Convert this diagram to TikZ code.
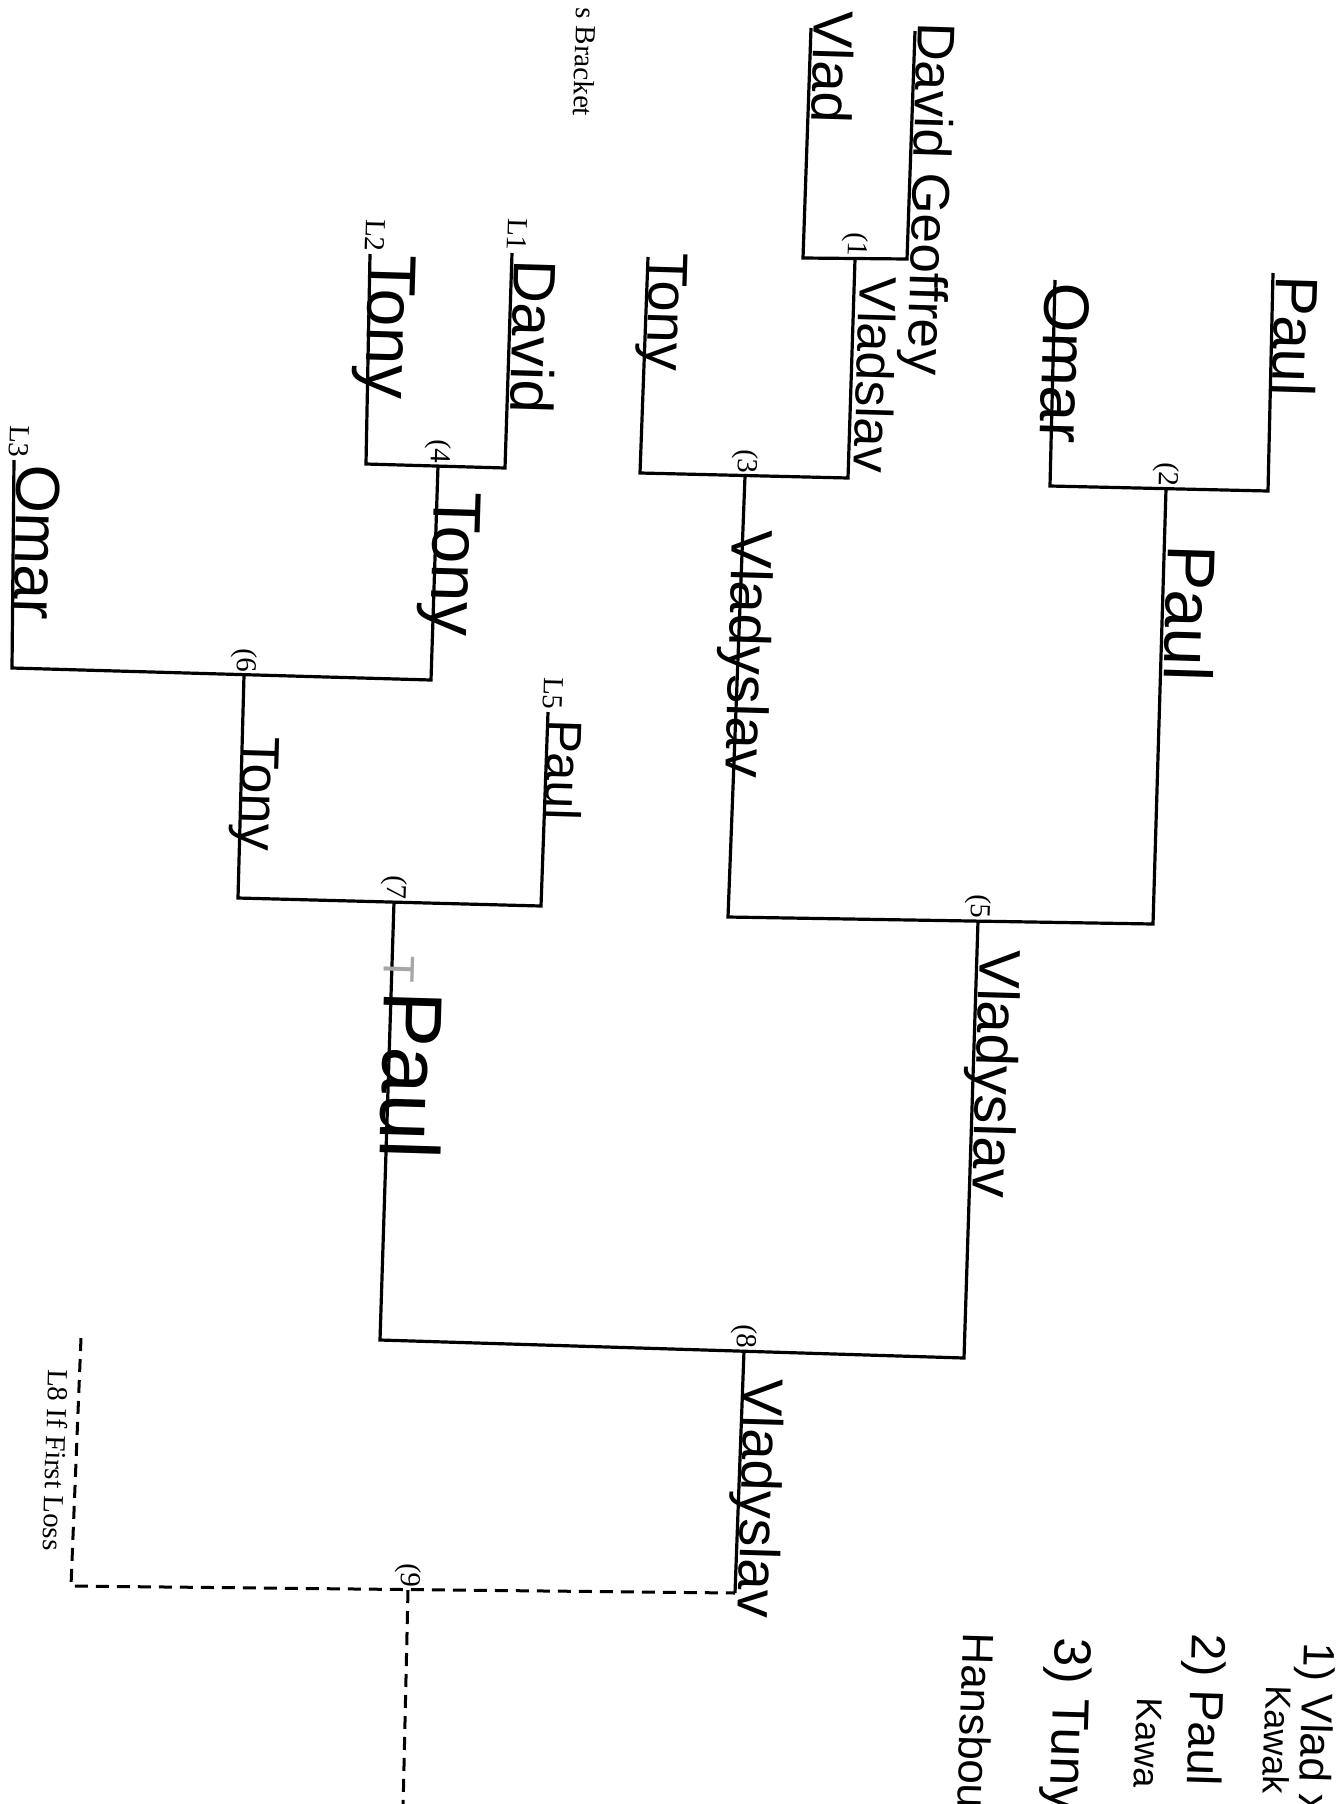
\documentclass[tikz,border=0pt]{standalone}
\usepackage{fontspec}
\setmainfont{Liberation Serif}
\newfontfamily\handfont{Liberation Sans}

\begin{document}
\begin{tikzpicture}[x=0.5pt, y=-0.5pt,
    bracket/.style={line width=1.6pt},
    ifloss/.style={line width=1.5pt, dash pattern=on 6.5pt off 4pt},
    printed/.style={rotate=-91.7, inner sep=1pt, font=\fontsize{14.5}{16}\selectfont},
    hand/.style={rotate=-91.7, anchor=base west, inner sep=0pt, font=\handfont\fontsize{#1}{#1}\selectfont}]

% Page
\useasboundingbox (0,0) rectangle (1337,1804);
\clip (0,0) rectangle (1337,1804);

% Points
\coordinate (1A) at (811,28);   \coordinate (1Ac) at (803,258);
\coordinate (1B) at (915,31);   \coordinate (1Bc) at (907,259);
\coordinate (2A) at (1055,280); \coordinate (2Ac) at (1050,486);
\coordinate (2B) at (1273,273); \coordinate (2Bc) at (1268,491);
\coordinate (3A) at (648,257);  \coordinate (3Ac) at (640,473);
\coordinate (3Bc) at (848,478);
\coordinate (4A) at (370,254);  \coordinate (4Ac) at (366,464);
\coordinate (4B) at (512,253);  \coordinate (4Bc) at (505,468);
\coordinate (5Ac) at (728,917); \coordinate (5Bc) at (1153,924);
\coordinate (6A) at (14,460);   \coordinate (6Ac) at (12,668);
\coordinate (6Bc) at (431,680);
\coordinate (7Ac) at (238,898);
\coordinate (7B) at (548,712);  \coordinate (7Bc) at (541,906);
\coordinate (8Ac) at (380,1340); \coordinate (8Bc) at (964,1358);
\coordinate (9A) at (81,1338);  \coordinate (9Ac) at (71,1586);
\coordinate (9Bc) at (735,1593); \coordinate (9out) at (403,1810);

% Match points
\coordinate (m1) at (855,259);
\coordinate (m2) at (1166,489);
\coordinate (m3) at (745,476);
\coordinate (m4) at (438,466);
\coordinate (m5) at (978,921);
\coordinate (m6) at (244,675);
\coordinate (m7) at (394,902);
\coordinate (m8) at (744,1351);
\coordinate (m9) at (408,1590);

% First round
\draw[bracket] (1A) -- (1Ac) -- (1Bc) -- (1B);
\draw[bracket] (2A) -- (2Ac) -- (2Bc) -- (2B);
\draw[bracket] (4A) -- (4Ac) -- (4Bc) -- (4B);

% Winners side
\draw[bracket] (3A) -- (3Ac) -- (3Bc) -- (m1);
\draw[bracket] (m3) -- (5Ac) -- (5Bc) -- (m2);
\draw[bracket] (m5) -- (8Bc) -- (8Ac) -- (m7);
\draw[bracket] (m8) -- (9Bc);

% Losers side
\draw[bracket] (6A) -- (6Ac) -- (6Bc) -- (m4);
\draw[bracket] (m6) -- (7Ac) -- (7Bc) -- (7B);

% If first loss
\draw[ifloss] (9A) -- (9Ac) -- (9Bc);
\draw[ifloss] (m9) -- (9out);

% Printed labels
\node[printed] (title) at (585,62) {s Bracket};
\node[printed, anchor=mid east] (l1) at (4B) {L1};
\node[printed, anchor=mid east] (l2) at (4A) {L2};
\node[printed, anchor=mid east] (l3) at (6A) {L3};
\node[printed, anchor=mid east] (l5) at (7B) {L5};
\node[printed] (l8) at (56,1460) {L8 If First Loss};
\foreach \k in {1,...,9}
  \node[printed, anchor=east] (n\k) at (m\k) {(\k};

% Handwritten names
\node[hand=28] (vlad) at (815,10) {Vlad};
\node[hand=26.5] (geoffrey) at (918,22) {David Geoffrey};
\node[hand=26] (win1) at (860,276) {Vladslav};
\node[hand=28] (tony3) at (650,252) {Tony};
\node[hand=32] (omar2) at (1045,282) {Omar};
\node[hand=30] (paul2) at (1276,275) {Paul};
\node[hand=34] (win2) at (1168,544) {Paul};
\node[hand=29] (win3) at (733,529) {Vladyslav};
\node[hand=29] (win5) at (980,949) {Vladyslav};
\node[hand=30] (david) at (515,259) {David};
\node[hand=34] (tony) at (370,254) {Tony};
\node[hand=34] (win4) at (435,491) {Tony};
\node[hand=31] (omar) at (18,464) {Omar};
\node[hand=27] (win6) at (243,736) {Tony};
\node[hand=25] (paul5) at (548,719) {Paul};
\node[hand=22, text=black!35] (tee) at (385,955) {T};
\node[hand=42] (win7) at (385,990) {Paul};
\node[hand=28] (win8) at (745,1378) {Vladyslav};

% Notes
\node[hand=22] (note1) at (1304,1642) {1) Vlad x};
\node[hand=18] (note1b) at (1266,1685) {Kawak};
\node[hand=24] (note2) at (1192,1633) {2) Paul};
\node[hand=18] (note2b) at (1137,1697) {Kawa};
\node[hand=26] (note3) at (1055,1637) {3) Tuny};
\node[hand=22] (note3b) at (963,1632) {Hansbou};

\end{tikzpicture}
\end{document}
